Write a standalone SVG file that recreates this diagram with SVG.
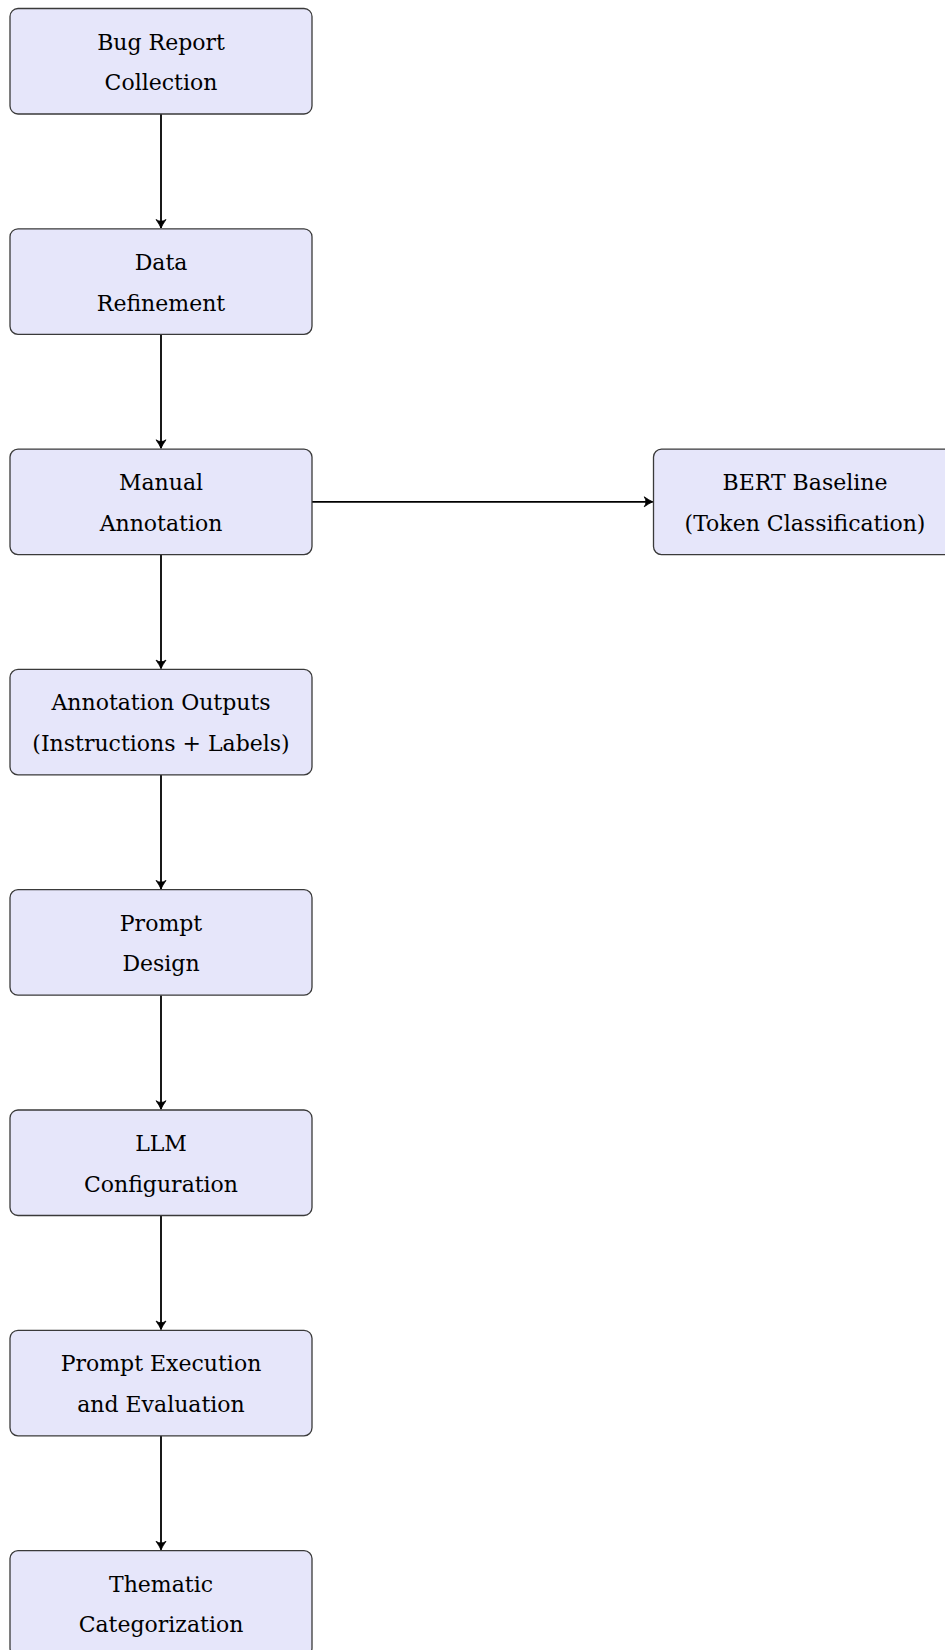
<svg xmlns="http://www.w3.org/2000/svg" width="945" height="1650" viewBox="0 0 945 1650">
  <style>
    .box { fill: #e6e6fa; stroke: #3a3a3a; stroke-width: 1.3; }
    .lbl { font-family: "DejaVu Serif", "Liberation Serif", serif; font-size: 22px; fill: #000; text-anchor: middle; }
    .edge { stroke: #000; stroke-width: 1.8; fill: none; }
  </style>
  <defs>
    <marker id="arr" markerUnits="userSpaceOnUse" markerWidth="14" markerHeight="14" viewBox="-10 -7 12 14" refX="0" refY="0" orient="auto">
      <path d="M-8.5,-5 Q-3.5,-1.5 0,0 Q-3.5,1.5 -8.5,5 Q-5,0 -8.5,-5 Z" fill="#000" stroke="#000" stroke-width="0.8" stroke-linejoin="round"/>
    </marker>
  </defs>
  <rect width="945" height="1650" fill="#fff"/>
  <g id="connectors">
    <line class="edge" x1="161" y1="114" x2="161" y2="228" marker-end="url(#arr)"/>
    <line class="edge" x1="161" y1="334.3" x2="161" y2="448.3" marker-end="url(#arr)"/>
    <line class="edge" x1="161" y1="554.6" x2="161" y2="668.6" marker-end="url(#arr)"/>
    <line class="edge" x1="161" y1="774.9" x2="161" y2="888.9" marker-end="url(#arr)"/>
    <line class="edge" x1="161" y1="995.2" x2="161" y2="1109.2" marker-end="url(#arr)"/>
    <line class="edge" x1="161" y1="1215.5" x2="161" y2="1329.5" marker-end="url(#arr)"/>
    <line class="edge" x1="161" y1="1435.8" x2="161" y2="1549.8" marker-end="url(#arr)"/>
    <line class="edge" x1="312" y1="501.8" x2="652.7" y2="501.8" marker-end="url(#arr)"/>
  </g>
  <g id="n1">
    <rect class="box" x="10" y="8.5" width="302" height="105.5" rx="8"/>
    <text class="lbl" x="161" y="49.5">Bug Report</text>
    <text class="lbl" x="161" y="90.2">Collection</text>
  </g>
  <g id="n2">
    <rect class="box" x="10" y="228.8" width="302" height="105.5" rx="8"/>
    <text class="lbl" x="161" y="269.8">Data</text>
    <text class="lbl" x="161" y="310.5">Refinement</text>
  </g>
  <g id="n3">
    <rect class="box" x="10" y="449.1" width="302" height="105.5" rx="8"/>
    <text class="lbl" x="161" y="490.1">Manual</text>
    <text class="lbl" x="161" y="530.8">Annotation</text>
  </g>
  <g id="n4">
    <rect class="box" x="10" y="669.4" width="302" height="105.5" rx="8"/>
    <text class="lbl" x="161" y="710.4">Annotation Outputs</text>
    <text class="lbl" x="161" y="751.1">(Instructions + Labels)</text>
  </g>
  <g id="n5">
    <rect class="box" x="10" y="889.7" width="302" height="105.5" rx="8"/>
    <text class="lbl" x="161" y="930.7">Prompt</text>
    <text class="lbl" x="161" y="971.4">Design</text>
  </g>
  <g id="n6">
    <rect class="box" x="10" y="1110" width="302" height="105.5" rx="8"/>
    <text class="lbl" x="161" y="1151">LLM</text>
    <text class="lbl" x="161" y="1191.7">Configuration</text>
  </g>
  <g id="n7">
    <rect class="box" x="10" y="1330.3" width="302" height="105.5" rx="8"/>
    <text class="lbl" x="161" y="1371.3">Prompt Execution</text>
    <text class="lbl" x="161" y="1412">and Evaluation</text>
  </g>
  <g id="n8">
    <rect class="box" x="10" y="1550.6" width="302" height="105.5" rx="8"/>
    <text class="lbl" x="161" y="1591.6">Thematic</text>
    <text class="lbl" x="161" y="1632.3">Categorization</text>
  </g>
  <g id="n9">
    <rect class="box" x="653.5" y="449.1" width="304" height="105.5" rx="8"/>
    <text class="lbl" x="805" y="490.1">BERT Baseline</text>
    <text class="lbl" x="805" y="530.8">(Token Classification)</text>
  </g>
</svg>
